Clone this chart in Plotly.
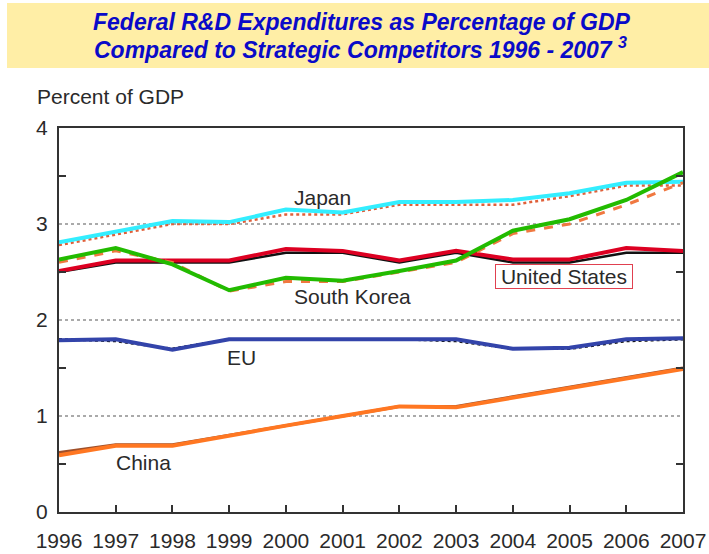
import plotly.graph_objects as go

years = list(range(1996, 2008))

japan = [2.81, 2.92, 3.03, 3.02, 3.15, 3.12, 3.23, 3.23, 3.25, 3.32, 3.43, 3.44]
japan_base = [2.78, 2.89, 3.00, 3.00, 3.10, 3.10, 3.20, 3.20, 3.20, 3.29, 3.40, 3.40]

us = [2.51, 2.62, 2.62, 2.62, 2.74, 2.72, 2.62, 2.72, 2.63, 2.63, 2.75, 2.72]
us_base = [2.50, 2.60, 2.60, 2.60, 2.70, 2.70, 2.60, 2.70, 2.60, 2.60, 2.70, 2.70]

korea = [2.63, 2.75, 2.58, 2.31, 2.44, 2.41, 2.51, 2.62, 2.93, 3.05, 3.25, 3.54]
korea_base = [2.60, 2.72, 2.60, 2.30, 2.40, 2.40, 2.50, 2.60, 2.90, 3.00, 3.20, 3.43]

eu = [1.79, 1.80, 1.69, 1.80, 1.80, 1.80, 1.80, 1.80, 1.70, 1.71, 1.80, 1.81]
eu_base = [1.80, 1.78, 1.70, 1.80, 1.80, 1.80, 1.80, 1.78, 1.70, 1.70, 1.78, 1.80]

china = [0.59, 0.69, 0.69, 0.80, 0.90, 1.00, 1.10, 1.09, 1.19, 1.29, 1.39, 1.49]
china_base = [0.62, 0.70, 0.70, 0.80, 0.90, 1.00, 1.10, 1.10, 1.20, 1.30, 1.40, 1.50]

y_ticks = [0, 1, 2, 3, 4]
y_minor = [0.5, 1.5, 2.5, 3.5]

W, H = 709, 554
L, R, T, B = 59, 683, 128, 512


def px(x):
    return (x - L) / (R - L)


def py(y):
    return (B - y) / (B - T)


fig = go.Figure()

series = [
    (japan_base, "#e0603a", 2.5, "dot"),
    (japan, "#33eeff", 4, "solid"),
    (us_base, "#111111", 2.5, "solid"),
    (us, "#dd0022", 4, "solid"),
    (korea_base, "#f07840", 3, "dash"),
    (korea, "#22bb00", 4, "solid"),
    (eu_base, "#111111", 2.5, "dot"),
    (eu, "#3344aa", 4, "solid"),
    (china_base, "#a0502a", 3, "solid"),
    (china, "#ff7722", 4, "solid"),
]
for vals, col, w, dash in series:
    fig.add_trace(go.Scatter(x=years, y=vals, mode="lines",
                             line=dict(color=col, width=w, dash=dash),
                             showlegend=False, hoverinfo="skip", cliponaxis=False))

axis_col = "#333333"
fig.update_xaxes(range=[1996, 2007], tickvals=years, ticks="inside", ticklen=7,
                 tickcolor=axis_col, tickwidth=2, ticklabelstandoff=9, automargin=False,
                 showline=True, linecolor=axis_col, linewidth=2, mirror=True,
                 showgrid=False, zeroline=False,
                 tickfont=dict(family="Liberation Sans, Arial", size=21, color="#2a2a2a"))
fig.update_yaxes(range=[0, 4], tickvals=y_ticks, ticks="", ticklabelstandoff=5, automargin=False,
                 showline=True, linecolor=axis_col, linewidth=2, mirror="ticks",
                 showgrid=True, gridcolor="#aaaaaa", griddash="dot", gridwidth=1.5,
                 zeroline=False,
                 minor=dict(tickvals=y_minor, ticks="inside", ticklen=7,
                            tickcolor=axis_col, tickwidth=2, showgrid=False),
                 tickfont=dict(family="Liberation Sans, Arial", size=21, color="#2a2a2a"))

# Title banner
fig.add_shape(type="rect", xref="paper", yref="paper",
              x0=px(7), x1=px(712), y0=py(68), y1=py(3),
              fillcolor="#ffeea6", line=dict(width=0), layer="below")

tfont = dict(family="Liberation Sans, Arial", size=23, color="#0a0ac8")
fig.add_annotation(xref="paper", yref="paper", x=px(361), y=py(22),
                   text="<b><i>Federal R&D Expenditures as Percentage of GDP</i></b>",
                   showarrow=False, font=tfont, xanchor="center", yanchor="middle")
fig.add_annotation(xref="paper", yref="paper", x=px(360), y=py(48),
                   text="<b><i>Compared to Strategic Competitors 1996 - 2007 <sup>3</sup></i></b>",
                   showarrow=False, font=tfont, xanchor="center", yanchor="middle")

lfont = dict(family="Liberation Sans, Arial", size=21, color="#2a2a2a")
fig.add_annotation(xref="paper", yref="paper", x=px(35), y=py(97), text="Percent of GDP",
                   showarrow=False, font=lfont, xanchor="left", yanchor="middle")

labels = [("Japan", 322, 197), ("South Korea", 352, 296), ("EU", 241, 357), ("China", 143, 462)]
for t, x, y in labels:
    fig.add_annotation(xref="paper", yref="paper", x=px(x), y=py(y), text=t,
                       showarrow=False, font=lfont, xanchor="center", yanchor="middle")

fig.add_annotation(xref="paper", yref="paper", x=px(564), y=py(276), text="United States",
                   showarrow=False, font=lfont, xanchor="center", yanchor="middle",
                   bordercolor="#e04050", borderwidth=1, borderpad=1, bgcolor="white",
                   width=134, height=21)

fig.update_layout(width=W, height=H, margin=dict(l=L, r=W - R, t=T, b=H - B, autoexpand=False),
                  paper_bgcolor="white", plot_bgcolor="white")

fig.write_html("out.html", config={"displayModeBar": False},
               post_script="document.body.style.margin='0';document.body.style.overflow='hidden';")
